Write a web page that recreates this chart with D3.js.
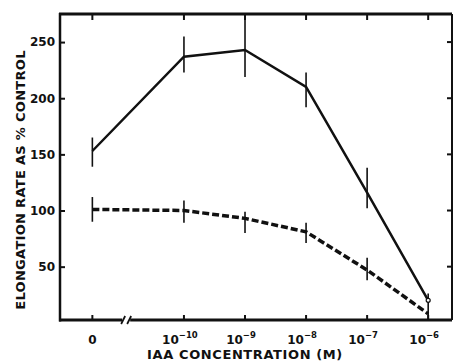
<!DOCTYPE html>
<html>
<head>
<meta charset="utf-8">
<script src="https://cdn.jsdelivr.net/npm/d3@7"></script>
<style>
  body { margin: 0; background: #fff; }
  text { font-family: "DejaVu Sans", sans-serif; font-weight: bold; fill: #111; }
</style>
</head>
<body>
<svg id="chart"></svg>
<script>
// IAA concentration categories (exponent of 10, null = control "0")
const exponents = [null, -10, -9, -8, -7, -6];
const yTicks = [50, 100, 150, 200, 250];

// solid line: elongation rate, % of control
const solidValues = [153, 237, 243, 210, 116, 20];
const solidLo = [139, 223, 219, 192, 102, 3];
const solidHi = [165, 255, 274, 223, 138, 26];

// dashed line
const dashedValues = [101, 100, 93, 81, 47, 8];
const dashedLo = [90, 89, 80, 71, 38, null];
const dashedHi = [112, 109, 99, 89, 58, null];

const width = 455, height = 362;
const margin = { top: 14, right: 3, bottom: 42, left: 60 };

const svg = d3.select('#chart')
  .attr('width', width)
  .attr('height', height);

// exponents on a linear scale; the control sits 1.5 decades left of 1e-10, past an axis break
const x = d3.scaleLinear()
  .domain([-12.03, -5.61])
  .range([margin.left, width - margin.right]);
const xOf = e => e === null ? x(-11.5) : x(e);

const y = d3.scaleLinear()
  .domain([2.5, 275])
  .range([height - margin.bottom, margin.top]);

const x0 = margin.left, x1 = width - margin.right;
const y0 = height - margin.bottom, y1 = margin.top;
const tickXs = exponents.map(xOf);

// left axis, ticks pointing inward
svg.append('g')
  .attr('transform', `translate(${x0},0)`)
  .call(d3.axisLeft(y).tickValues(yTicks).tickSizeInner(-5).tickSizeOuter(0).tickPadding(5))
  .call(g => g.select('.domain').remove())
  .call(g => g.selectAll('.tick line').attr('stroke', '#111').attr('stroke-width', 2))
  .call(g => g.selectAll('.tick text')
    .style('font-size', '12px').style('font-family', '"DejaVu Sans", sans-serif')
    .style('font-weight', 'bold').attr('fill', '#111'));

// right ticks
svg.append('g').selectAll('line')
  .data(yTicks)
  .enter().append('line')
  .attr('x1', x1).attr('x2', x1 - 5)
  .attr('y1', d => y(d)).attr('y2', d => y(d))
  .attr('stroke', '#111').attr('stroke-width', 2);

// bottom and top ticks
svg.append('g').selectAll('line')
  .data(tickXs)
  .enter().append('line')
  .attr('x1', d => d).attr('x2', d => d)
  .attr('y1', y0).attr('y2', y0 - 5)
  .attr('stroke', '#111').attr('stroke-width', 2);

svg.append('g').selectAll('line')
  .data(tickXs)
  .enter().append('line')
  .attr('x1', d => d).attr('x2', d => d)
  .attr('y1', y1).attr('y2', y1 + 6)
  .attr('stroke', '#111').attr('stroke-width', 2);

// frame
const frame = svg.append('g').attr('stroke', '#111').attr('fill', 'none');
frame.append('line').attr('x1', x0).attr('x2', x0).attr('y1', y1 - 1).attr('y2', y0 + 1.5).attr('stroke-width', 2.5);
frame.append('line').attr('x1', x0 - 1).attr('x2', x1).attr('y1', y0).attr('y2', y0).attr('stroke-width', 3);
frame.append('line').attr('x1', x0 - 1).attr('x2', x1).attr('y1', y1).attr('y2', y1).attr('stroke-width', 3);
frame.append('line').attr('x1', x1).attr('x2', x1).attr('y1', y1).attr('y2', y0).attr('stroke-width', 2);

// axis break
const bx = (xOf(null) + x(-10)) / 2 - 12;
svg.append('rect')
  .attr('x', bx - 4).attr('y', y0 - 3).attr('width', 8).attr('height', 6)
  .attr('fill', '#fff');
[-3, 3].forEach(dx => {
  svg.append('line')
    .attr('x1', bx + dx - 2).attr('x2', bx + dx + 2)
    .attr('y1', y0 + 4).attr('y2', y0 - 4)
    .attr('stroke', '#111').attr('stroke-width', 1.8);
});

// x tick labels
const xLabels = svg.append('g');
exponents.forEach(e => {
  const t = xLabels.append('text')
    .attr('x', e === null ? xOf(e) : xOf(e) - 4)
    .attr('y', y0 + 24)
    .attr('text-anchor', 'middle')
    .style('font-size', '12px');
  if (e === null) {
    t.text('0');
  } else {
    t.append('tspan').text('10');
    t.append('tspan').attr('dy', -6).style('font-size', '8.5px').text('\u2212' + (-e));
  }
});

// axis titles
svg.append('text')
  .attr('x', 245).attr('y', y0 + 39)
  .attr('text-anchor', 'middle')
  .style('font-size', '13px')
  .style('letter-spacing', '0.6px')
  .text('IAA CONCENTRATION  (M)');

svg.append('text')
  .attr('transform', `translate(25,${(y0 + y1) / 2 + 13}) rotate(-90)`)
  .attr('text-anchor', 'middle')
  .style('font-size', '13px')
  .style('letter-spacing', '0.3px')
  .text('ELONGATION RATE AS % CONTROL');

// series
const line = d3.line()
  .x((d, i) => xOf(exponents[i]))
  .y(d => y(d));

function drawSeries(values, lo, hi, dash, lineWidth) {
  svg.append('path')
    .datum(values)
    .attr('d', line)
    .attr('fill', 'none')
    .attr('stroke', '#111')
    .attr('stroke-width', lineWidth)
    .attr('stroke-dasharray', dash);

  svg.append('g').selectAll('line')
    .data(values.map((v, i) => ({ i, lo: lo[i], hi: hi[i] })).filter(d => d.lo !== null))
    .enter().append('line')
    .attr('x1', d => xOf(exponents[d.i])).attr('x2', d => xOf(exponents[d.i]))
    .attr('y1', d => y(d.lo)).attr('y2', d => y(d.hi))
    .attr('stroke', '#111')
    .attr('stroke-width', 1.6);
}

drawSeries(dashedValues, dashedLo, dashedHi, '7,3', 3.5);
drawSeries(solidValues, solidLo, solidHi, null, 2.5);

// small open marker at the last point of the solid line
svg.append('circle')
  .attr('cx', xOf(exponents[5]))
  .attr('cy', y(solidValues[5]))
  .attr('r', 2)
  .attr('fill', '#fff')
  .attr('stroke', '#111')
  .attr('stroke-width', 1.2);
</script>
</body>
</html>
